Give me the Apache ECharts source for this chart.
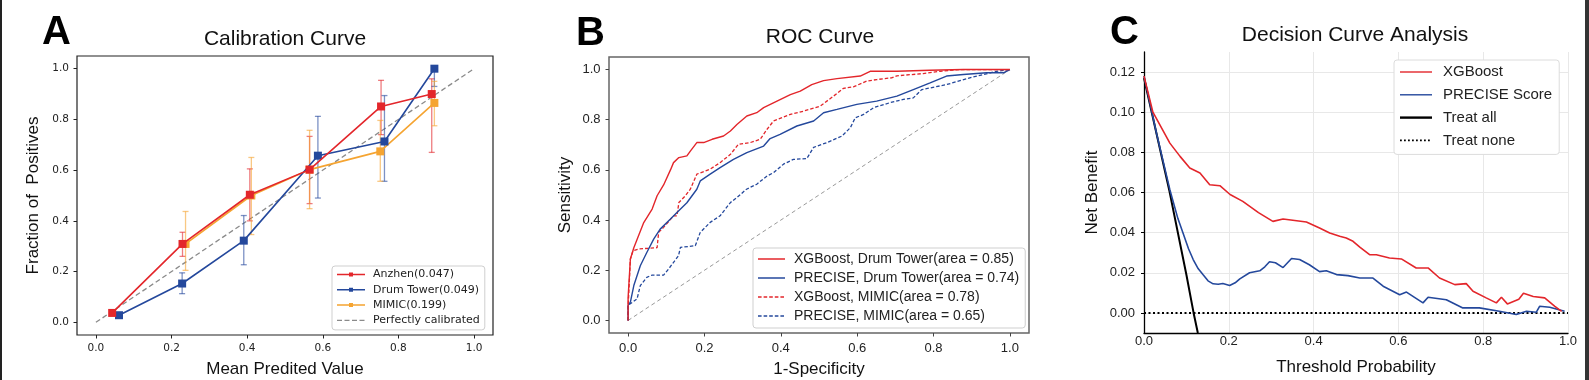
<!DOCTYPE html>
<html><head><meta charset="utf-8">
<script src="https://cdn.jsdelivr.net/npm/echarts@6/dist/echarts.min.js"></script>
<style>html,body{margin:0;padding:0;background:#fff}#c{width:1589px;height:380px}</style>
</head><body><div id="c"></div>
<script>
// ================= DATA =================
// Panel A: calibration curve (mean predicted value, fraction of positives, CI low, CI high)
const calAnzhenX  = [0.043, 0.229, 0.407, 0.565, 0.754, 0.888];
const calAnzhenY  = [0.037, 0.309, 0.503, 0.602, 0.851, 0.900];
const calAnzhenLo = [0.030, 0.260, 0.400, 0.468, 0.740, 0.670];
const calAnzhenHi = [0.045, 0.355, 0.605, 0.733, 0.954, 0.960];

const calDrumX  = [0.061, 0.228, 0.391, 0.587, 0.763, 0.895];
const calDrumY  = [0.028, 0.153, 0.322, 0.657, 0.713, 1.000];
const calDrumLo = [0.020, 0.113, 0.227, 0.490, 0.556, 0.930];
const calDrumHi = [0.035, 0.195, 0.421, 0.812, 0.894, 1.000];

const calMimicX  = [0.237, 0.411, 0.565, 0.752, 0.895];
const calMimicY  = [0.309, 0.500, 0.602, 0.674, 0.865];
const calMimicLo = [0.205, 0.346, 0.448, 0.556, 0.775];
const calMimicHi = [0.437, 0.650, 0.757, 0.796, 0.950];

const perfectLine = [[0, 0], [1, 1]];
const unitTicks = [0, 0.2, 0.4, 0.6, 0.8, 1.0];

// Panel B: ROC curves [1-specificity, sensitivity]
const rocXgbDrum = [[0,0],[0,0.09],[0.006,0.245],[0.015,0.29],[0.024,0.325],[0.041,0.39],[0.063,0.444],[0.076,0.497],[0.093,0.54],[0.111,0.60],[0.119,0.629],[0.133,0.649],[0.154,0.656],[0.163,0.675],[0.180,0.709],[0.198,0.709],[0.22,0.722],[0.25,0.735],[0.268,0.755],[0.285,0.781],[0.311,0.815],[0.337,0.828],[0.355,0.848],[0.39,0.874],[0.425,0.90],[0.451,0.914],[0.481,0.940],[0.512,0.956],[0.547,0.964],[0.608,0.974],[0.634,0.993],[0.704,0.993],[0.79,0.997],[0.878,1.0],[1,1]];
const rocPreDrum = [[0,0],[0,0.06],[0.006,0.073],[0.015,0.139],[0.032,0.218],[0.049,0.271],[0.067,0.324],[0.084,0.364],[0.111,0.404],[0.128,0.43],[0.154,0.469],[0.180,0.523],[0.189,0.556],[0.215,0.583],[0.241,0.609],[0.276,0.642],[0.311,0.669],[0.355,0.695],[0.372,0.725],[0.398,0.742],[0.442,0.775],[0.486,0.795],[0.512,0.828],[0.547,0.841],[0.599,0.861],[0.651,0.874],[0.704,0.894],[0.747,0.92],[0.791,0.947],[0.834,0.974],[0.878,0.98],[0.939,0.987],[0.983,0.987],[1,1]];
const rocXgbMimic = [[0,0],[0,0.05],[0.006,0.245],[0.013,0.278],[0.028,0.285],[0.076,0.29],[0.080,0.351],[0.093,0.371],[0.119,0.417],[0.128,0.417],[0.133,0.47],[0.150,0.497],[0.163,0.523],[0.180,0.583],[0.215,0.603],[0.241,0.629],[0.268,0.662],[0.289,0.702],[0.32,0.709],[0.346,0.722],[0.364,0.762],[0.381,0.795],[0.425,0.821],[0.459,0.834],[0.503,0.854],[0.538,0.894],[0.564,0.925],[0.590,0.931],[0.625,0.954],[0.651,0.960],[0.690,0.967],[0.704,0.975],[0.773,0.984],[0.817,0.993],[0.869,1.0],[1,1]];
const rocPreMimic = [[0,0],[0,0.06],[0.0235,0.086],[0.032,0.139],[0.049,0.172],[0.063,0.181],[0.093,0.181],[0.106,0.205],[0.132,0.258],[0.137,0.291],[0.176,0.298],[0.189,0.351],[0.215,0.391],[0.241,0.417],[0.268,0.47],[0.285,0.49],[0.31,0.523],[0.337,0.543],[0.364,0.576],[0.381,0.589],[0.407,0.623],[0.433,0.642],[0.468,0.645],[0.486,0.69],[0.521,0.709],[0.560,0.735],[0.582,0.768],[0.595,0.808],[0.617,0.821],[0.643,0.848],[0.686,0.868],[0.721,0.881],[0.747,0.887],[0.769,0.92],[0.834,0.94],[0.895,0.967],[0.965,0.993],[1,1]];
const rocChance = [[0, 0], [1, 1]];

// Panel C: decision curves [threshold probability, net benefit]
const dcaXgb = [[0,0.118],[0.021,0.100],[0.061,0.0846],[0.085,0.078],[0.108,0.0722],[0.132,0.0697],[0.155,0.0639],[0.179,0.0634],[0.203,0.059],[0.233,0.0556],[0.27,0.050],[0.304,0.0456],[0.328,0.0468],[0.383,0.0453],[0.414,0.0423],[0.438,0.0398],[0.4616,0.0382],[0.477,0.0373],[0.493,0.0357],[0.509,0.0328],[0.532,0.029],[0.548,0.029],[0.579,0.0274],[0.607,0.0269],[0.642,0.0224],[0.67,0.0224],[0.697,0.0174],[0.733,0.0141],[0.76,0.0146],[0.776,0.0108],[0.807,0.0075],[0.831,0.005],[0.843,0.0078],[0.857,0.0045],[0.884,0.0068],[0.895,0.0098],[0.918,0.0082],[0.945,0.0075],[0.969,0.0033],[0.985,0.0008]];
const dcaPrecise = [[0,0.118],[0.03,0.089],[0.061,0.0614],[0.08,0.047],[0.092,0.0398],[0.105,0.032],[0.116,0.0266],[0.128,0.022],[0.139,0.0191],[0.151,0.016],[0.163,0.0145],[0.175,0.0143],[0.186,0.0147],[0.202,0.0137],[0.215,0.015],[0.226,0.017],[0.249,0.020],[0.273,0.021],[0.285,0.023],[0.296,0.0255],[0.31,0.025],[0.328,0.0226],[0.348,0.0271],[0.367,0.0266],[0.39,0.024],[0.414,0.0206],[0.430,0.021],[0.454,0.0191],[0.481,0.0186],[0.509,0.0174],[0.54,0.0174],[0.564,0.0133],[0.603,0.0091],[0.619,0.0104],[0.658,0.005],[0.67,0.0078],[0.713,0.0066],[0.752,0.0025],[0.791,0.0025],[0.838,0.0008],[0.878,-0.0008],[0.902,0.0008],[0.925,0.0003],[0.933,0.0033],[0.957,0.0028],[0.992,0.0008]];
const dcaTreatAll = [[0,0.117],[0.06,0.0607],[0.1,0.019],[0.117,0],[0.127,-0.01]];
const dcaTreatNone = [[0,0],[1,0]];
const dcaYTicks = [0, 0.02, 0.04, 0.06, 0.08, 0.10, 0.12];

// ================= STYLE / HELPERS =================
const RED = '#e3262b', BLUE = '#24489c', ORANGE = '#f5a431';
const SANS = 'Liberation Sans, Arial, sans-serif';
const DJV = 'DejaVu Sans, sans-serif';

const zip3 = (xs, lo, hi) => xs.map((x, i) => [x, lo[i], hi[i]]);
const zip2 = (xs, ys) => xs.map((x, i) => [x, ys[i]]);
const fmt1 = v => v.toFixed(1);
const fmt2 = v => v.toFixed(2);

function box(W, H) { return `M0,0L0,0M${W},${H}L${W},${H}`; }
function solid(W, H, t) { const y = (H - t) / 2; return `path://${box(W,H)}M0,${y}h${W}v${t}h-${W}z`; }
function dashed(W, H, t, on, off) {
  const y = (H - t) / 2; let p = `path://${box(W,H)}`;
  for (let x = 0; x < W; x += on + off) { const w = Math.min(on, W - x); p += `M${x},${y}h${w}v${t}h-${w}z`; }
  return p;
}
function lineSquare(W, H, t, s) {
  const y = (H - t) / 2;
  return `path://${box(W,H)}M0,${y}h${W}v${t}h-${W}zM${(W - s)/2},${(H - s)/2}h${s}v${s}h-${s}z`;
}

function errRender(color) {
  return function (params, api) {
    const x = api.value(0), lo = api.value(1), hi = api.value(2);
    const p1 = api.coord([x, lo]), p2 = api.coord([x, hi]);
    const st = { stroke: color, lineWidth: 1.3, opacity: 0.6 };
    return { type: 'group', children: [
      { type: 'line', shape: { x1: p1[0], y1: p1[1], x2: p2[0], y2: p2[1] }, style: st },
      { type: 'line', shape: { x1: p1[0] - 3, y1: p1[1], x2: p1[0] + 3, y2: p1[1] }, style: st },
      { type: 'line', shape: { x1: p2[0] - 3, y1: p2[1], x2: p2[0] + 3, y2: p2[1] }, style: st }
    ]};
  };
}

const nameStyle = { fontFamily: SANS, fontSize: 17, color: '#111' };
const hiddenLine = { show: false, onZero: false };

const chart = echarts.init(document.getElementById('c'), null, { renderer: 'canvas' });
chart.setOption({
  animation: false,
  backgroundColor: '#fff',
  grid: [
    { left: 77, top: 56, width: 416, height: 279, show: true, borderColor: '#222', borderWidth: 1.2, outerBoundsMode: 'none' },
    { left: 609, top: 57, width: 420, height: 276, show: true, borderColor: '#666', borderWidth: 1.5, outerBoundsMode: 'none' },
    { left: 1144, top: 52, width: 424, height: 281, show: false, outerBoundsMode: 'none' }
  ],
  xAxis: [
    { gridIndex: 0, type: 'value', min: -0.05, max: 1.05, axisLine: hiddenLine,
      axisTick: { customValues: unitTicks, length: 3.5, lineStyle: { color: '#222' } },
      axisLabel: { customValues: unitTicks, formatter: fmt1, margin: 8, fontFamily: DJV, fontSize: 10.5, color: '#222' },
      splitLine: { show: false }, name: 'Mean Predited Value', nameLocation: 'middle', nameGap: 26, nameTextStyle: nameStyle },
    { gridIndex: 1, type: 'value', min: -0.05, max: 1.05, axisLine: hiddenLine,
      axisTick: { customValues: unitTicks, length: 3.5, lineStyle: { color: '#444' } },
      axisLabel: { customValues: unitTicks, formatter: fmt1, margin: 9, fontFamily: SANS, fontSize: 13, color: '#222' },
      splitLine: { show: false }, name: '1-Specificity', nameLocation: 'middle', nameGap: 28, nameTextStyle: nameStyle },
    { gridIndex: 2, type: 'value', min: 0, max: 1, interval: 0.2,
      axisLine: { show: true, onZero: false, lineStyle: { color: '#000', width: 1.3 } },
      axisTick: { show: false },
      axisLabel: { formatter: fmt1, margin: 2, fontFamily: SANS, fontSize: 13, color: '#222' },
      splitLine: { show: true, lineStyle: { color: '#e8e8e8', width: 1 } },
      name: 'Threshold Probability', nameLocation: 'middle', nameGap: 26, nameTextStyle: nameStyle }
  ],
  yAxis: [
    { gridIndex: 0, type: 'value', min: -0.05, max: 1.05, axisLine: hiddenLine,
      axisTick: { customValues: unitTicks, length: 3.5, lineStyle: { color: '#222' } },
      axisLabel: { customValues: unitTicks, formatter: fmt1, margin: 8, fontFamily: DJV, fontSize: 10.5, color: '#222' },
      splitLine: { show: false }, name: 'Fraction of  Positives', nameLocation: 'middle', nameGap: 35, nameTextStyle: nameStyle },
    { gridIndex: 1, type: 'value', min: -0.05, max: 1.05, axisLine: hiddenLine,
      axisTick: { customValues: unitTicks, length: 3.5, lineStyle: { color: '#444' } },
      axisLabel: { customValues: unitTicks, formatter: fmt1, margin: 8.5, fontFamily: SANS, fontSize: 13, color: '#222' },
      splitLine: { show: false }, name: 'Sensitivity', nameLocation: 'middle', nameGap: 35, nameTextStyle: nameStyle },
    { gridIndex: 2, type: 'value', min: -0.01, max: 0.13,
      axisLine: { show: true, onZero: false, lineStyle: { color: '#000', width: 1.3 } },
      axisTick: { show: true, customValues: dcaYTicks, length: 3, lineStyle: { color: '#000' } },
      axisLabel: { customValues: dcaYTicks, formatter: fmt2, margin: 9, fontFamily: SANS, fontSize: 13, color: '#222' },
      splitLine: { show: true, lineStyle: { color: '#e8e8e8', width: 1 } },
      name: 'Net Benefit', nameLocation: 'middle', nameGap: 43, nameTextStyle: nameStyle }
  ],
  legend: [
    { orient: 'vertical', left: 332, top: 266, padding: [2, 5, 3, 5], itemGap: 2.3,
      itemWidth: 28, itemHeight: 4, symbolKeepAspect: false, selectedMode: false,
      backgroundColor: '#fff', borderColor: '#cfcfcf', borderWidth: 1, borderRadius: 3,
      itemStyle: { borderWidth: 0 },
      textStyle: { fontFamily: DJV, fontSize: 11, color: '#222', lineHeight: 13, padding: [0, 0, 0, 3] },
      data: [
        { name: 'Anzhen(0.047)', icon: lineSquare(28, 4, 1.5, 4) },
        { name: 'Drum Tower(0.049)', icon: lineSquare(28, 4, 1.5, 4) },
        { name: 'MIMIC(0.199)', icon: lineSquare(28, 4, 1.5, 4) },
        { name: 'Perfectly calibrated', icon: dashed(28, 4, 1.3, 5, 2.5) }
      ] },
    { orient: 'vertical', left: 753, top: 248, padding: [3, 6, 4, 5], itemGap: 3,
      itemWidth: 27, itemHeight: 4, symbolKeepAspect: false, selectedMode: false,
      backgroundColor: '#fff', borderColor: '#cfcfcf', borderWidth: 1, borderRadius: 3,
      itemStyle: { borderWidth: 0 },
      textStyle: { fontFamily: SANS, fontSize: 14, color: '#222', lineHeight: 16, padding: [0, 0, 0, 4] },
      data: [
        { name: 'XGBoost, Drum Tower(area = 0.85)', icon: solid(27, 4, 1.5) },
        { name: 'PRECISE, Drum Tower(area = 0.74)', icon: solid(27, 4, 1.5) },
        { name: 'XGBoost, MIMIC(area = 0.78)', icon: dashed(27, 4, 1.5, 3.6, 2) },
        { name: 'PRECISE, MIMIC(area = 0.65)', icon: dashed(27, 4, 1.5, 3.6, 2) }
      ] },
    { orient: 'vertical', left: 1394, top: 60, padding: [3, 7, 5, 6], itemGap: 4.8,
      itemWidth: 32, itemHeight: 4, symbolKeepAspect: false, selectedMode: false,
      backgroundColor: '#fff', borderColor: '#dcdcdc', borderWidth: 1, borderRadius: 3,
      itemStyle: { borderWidth: 0 },
      textStyle: { fontFamily: SANS, fontSize: 15, color: '#222', lineHeight: 18, padding: [0, 0, 0, 6] },
      data: [
        { name: 'XGBoost', icon: solid(32, 4, 1.4) },
        { name: 'PRECISE Score', icon: solid(32, 4, 1.4) },
        { name: 'Treat all', icon: solid(32, 4, 2.4) },
        { name: 'Treat none', icon: dashed(32, 4, 1.8, 1.8, 2.2) }
      ] }
  ],
  graphic: [
    { type: 'rect', shape: { x: 0, y: 0, width: 2, height: 380 }, style: { fill: '#222' } },
    { type: 'rect', shape: { x: 1585, y: 0, width: 4, height: 380 }, style: { fill: '#333' } },
    { type: 'text', x: 42, y: 33, style: { text: 'A', fontFamily: SANS, fontWeight: 'bold', fontSize: 40, fill: '#000', align: 'left', verticalAlign: 'middle' } },
    { type: 'text', x: 576, y: 34, style: { text: 'B', fontFamily: SANS, fontWeight: 'bold', fontSize: 40, fill: '#000', align: 'left', verticalAlign: 'middle' } },
    { type: 'text', x: 1110, y: 33, style: { text: 'C', fontFamily: SANS, fontWeight: 'bold', fontSize: 40, fill: '#000', align: 'left', verticalAlign: 'middle' } },
    { type: 'text', x: 285, y: 39, style: { text: 'Calibration Curve', fontFamily: SANS, fontSize: 21, fill: '#111', align: 'center', verticalAlign: 'middle' } },
    { type: 'text', x: 820, y: 37, style: { text: 'ROC Curve', fontFamily: SANS, fontSize: 21, fill: '#111', align: 'center', verticalAlign: 'middle' } },
    { type: 'text', x: 1355, y: 35, style: { text: 'Decision Curve Analysis', fontFamily: SANS, fontSize: 21, fill: '#111', align: 'center', verticalAlign: 'middle' } }
  ],
  series: [
    // ---- Panel A ----
    { name: 'Perfectly calibrated', type: 'line', xAxisIndex: 0, yAxisIndex: 0, data: perfectLine, symbol: 'none',
      lineStyle: { color: '#8a8a8a', width: 1.3, type: [5, 3] }, itemStyle: { color: '#8a8a8a' }, z: 1 },
    { name: 'Anzhen err', type: 'custom', xAxisIndex: 0, yAxisIndex: 0, data: zip3(calAnzhenX, calAnzhenLo, calAnzhenHi), renderItem: errRender(RED), z: 2, encode: { x: 0, y: [1, 2] } },
    { name: 'Drum err', type: 'custom', xAxisIndex: 0, yAxisIndex: 0, data: zip3(calDrumX, calDrumLo, calDrumHi), renderItem: errRender(BLUE), z: 2, encode: { x: 0, y: [1, 2] } },
    { name: 'MIMIC err', type: 'custom', xAxisIndex: 0, yAxisIndex: 0, data: zip3(calMimicX, calMimicLo, calMimicHi), renderItem: errRender(ORANGE), z: 2, encode: { x: 0, y: [1, 2] } },
    { name: 'MIMIC(0.199)', type: 'line', xAxisIndex: 0, yAxisIndex: 0, data: zip2(calMimicX, calMimicY), symbol: 'rect', symbolSize: 8,
      lineStyle: { color: ORANGE, width: 1.6 }, itemStyle: { color: ORANGE }, z: 3 },
    { name: 'Drum Tower(0.049)', type: 'line', xAxisIndex: 0, yAxisIndex: 0, data: zip2(calDrumX, calDrumY), symbol: 'rect', symbolSize: 8,
      lineStyle: { color: BLUE, width: 1.6 }, itemStyle: { color: BLUE }, z: 4 },
    { name: 'Anzhen(0.047)', type: 'line', xAxisIndex: 0, yAxisIndex: 0, data: zip2(calAnzhenX, calAnzhenY), symbol: 'rect', symbolSize: 8,
      lineStyle: { color: RED, width: 1.6 }, itemStyle: { color: RED }, z: 5 },
    // ---- Panel B ----
    { name: 'chance', type: 'line', xAxisIndex: 1, yAxisIndex: 1, data: rocChance, symbol: 'none',
      lineStyle: { color: '#999', width: 1, type: [4, 3] }, z: 1 },
    { name: 'PRECISE, MIMIC(area = 0.65)', type: 'line', xAxisIndex: 1, yAxisIndex: 1, data: rocPreMimic, symbol: 'none',
      lineStyle: { color: BLUE, width: 1.3, type: [3.5, 2] }, itemStyle: { color: BLUE }, z: 2 },
    { name: 'XGBoost, MIMIC(area = 0.78)', type: 'line', xAxisIndex: 1, yAxisIndex: 1, data: rocXgbMimic, symbol: 'none',
      lineStyle: { color: RED, width: 1.3, type: [3.5, 2] }, itemStyle: { color: RED }, z: 3 },
    { name: 'PRECISE, Drum Tower(area = 0.74)', type: 'line', xAxisIndex: 1, yAxisIndex: 1, data: rocPreDrum, symbol: 'none',
      lineStyle: { color: BLUE, width: 1.4 }, itemStyle: { color: BLUE }, z: 4 },
    { name: 'XGBoost, Drum Tower(area = 0.85)', type: 'line', xAxisIndex: 1, yAxisIndex: 1, data: rocXgbDrum, symbol: 'none',
      lineStyle: { color: RED, width: 1.4 }, itemStyle: { color: RED }, z: 5 },
    // ---- Panel C ----
    { name: 'Treat none', type: 'line', xAxisIndex: 2, yAxisIndex: 2, data: dcaTreatNone, symbol: 'none',
      lineStyle: { color: '#000', width: 2, type: [2, 2.5] }, itemStyle: { color: '#000' }, z: 2 },
    { name: 'Treat all', type: 'line', xAxisIndex: 2, yAxisIndex: 2, data: dcaTreatAll, symbol: 'none',
      lineStyle: { color: '#000', width: 2 }, itemStyle: { color: '#000' }, z: 3 },
    { name: 'PRECISE Score', type: 'line', xAxisIndex: 2, yAxisIndex: 2, data: dcaPrecise, symbol: 'none',
      lineStyle: { color: BLUE, width: 1.6 }, itemStyle: { color: BLUE }, z: 4 },
    { name: 'XGBoost', type: 'line', xAxisIndex: 2, yAxisIndex: 2, data: dcaXgb, symbol: 'none',
      lineStyle: { color: RED, width: 1.6 }, itemStyle: { color: RED }, z: 5 }
  ]
});
</script></body></html>
